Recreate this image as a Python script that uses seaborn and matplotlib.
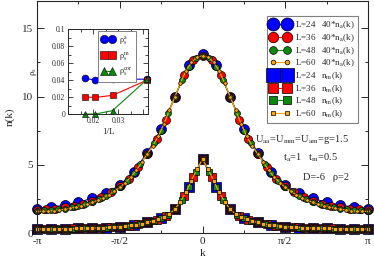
import numpy as np
import seaborn as sns
import matplotlib.pyplot as plt
from matplotlib.ticker import MultipleLocator

# n(k) values for k = 0 .. pi (n(k) = n(-k), mirrored below)
na40_L24 = [13.1, 12.3, 10.0, 7.6, 5.9, 4.5, 3.5, 2.95, 2.55, 2.25, 2.05, 1.9, 1.8]
na40_L36 = [13.0, 12.7, 11.6, 10.0, 8.3, 6.9, 5.8, 4.85, 4.0, 3.45, 3.0, 2.65, 2.35,
            2.15, 2.0, 1.88, 1.8, 1.74, 1.72]
na40_L48 = [13.0, 12.8, 12.2, 11.2, 10.0, 8.8, 7.5, 6.6, 5.8, 5.05, 4.4, 3.85, 3.4,
            3.05, 2.75, 2.5, 2.3, 2.15, 2.02, 1.9, 1.8, 1.74, 1.69, 1.66, 1.65]
na40_L60 = [13.0, 12.9, 12.5, 11.9, 11.0, 10.0, 9.0, 8.0, 7.1, 6.4, 5.8, 5.2, 4.6,
            4.1, 3.7, 3.35, 3.05, 2.82, 2.6, 2.4, 2.25, 2.12, 2.02, 1.92, 1.82, 1.75,
            1.7, 1.65, 1.62, 1.6, 1.59]

nm_L24 = [5.4, 3.4, 1.75, 1.1, 0.78, 0.59, 0.47, 0.41, 0.37, 0.34, 0.32, 0.31, 0.3]
nm_L36 = [5.4, 4.1, 2.75, 1.75, 1.25, 0.97, 0.78, 0.65, 0.54, 0.47, 0.43, 0.4, 0.37,
          0.35, 0.34, 0.32, 0.31, 0.31, 0.3]
nm_L48 = [5.4, 4.5, 3.4, 2.45, 1.75, 1.33, 1.1, 0.92, 0.78, 0.68, 0.59, 0.52, 0.47,
          0.44, 0.41, 0.39, 0.37, 0.355, 0.34, 0.33, 0.32, 0.31, 0.31, 0.3, 0.3]
nm_L60 = [5.4, 4.7, 3.85, 3.0, 2.3, 1.75, 1.4, 1.18, 1.02, 0.88, 0.78, 0.7, 0.62,
          0.56, 0.51, 0.47, 0.44, 0.42, 0.4, 0.38, 0.37, 0.36, 0.35, 0.34, 0.33,
          0.32, 0.32, 0.31, 0.31, 0.3, 0.3]

sizes = [24, 36, 48, 60]

# inset: superfluid stiffness vs 1/L
inv_L = [1 / 60, 1 / 48, 1 / 36, 1 / 24]
rho_a = [0.042, 0.040, 0.041, 0.041]
rho_m = [0.020, 0.0195, 0.022, 0.040]
rho_cor = [0.0, 0.0, 0.004, 0.041]

colors = ["#0000ff", "#ff0000", "#0a8a0a", "#ffa500"]
msizes = [7.2, 5.8, 4.3, 2.6]


def full(half):
    return half[::-1] + half[1:]


def kgrid(L):
    n = np.arange(-L // 2, L // 2 + 1)
    return 2 * np.pi * n / L


sns.set_style("ticks")
plt.rcParams["font.family"] = ["Liberation Serif", "DejaVu Serif"]
plt.rcParams["mathtext.fontset"] = "stix"

fig = plt.figure(figsize=(3.74, 2.64), dpi=100)
ax = fig.add_axes([0.099, 0.117, 0.885, 0.879])

for L, c, ms, vals in zip(sizes, colors, msizes, [na40_L24, na40_L36, na40_L48, na40_L60]):
    sns.lineplot(x=kgrid(L), y=full(vals), ax=ax, color=c, lw=0.8, marker="o",
                 markersize=ms, markeredgecolor="black", markeredgewidth=0.5,
                 clip_on=False, label=f"L={L}   40*n$_{{\\rm a}}$(k)")
for L, c, ms, vals in zip(sizes, colors, msizes, [nm_L24, nm_L36, nm_L48, nm_L60]):
    sns.lineplot(x=kgrid(L), y=full(vals), ax=ax, color=c, lw=0.8, marker="s",
                 markersize=ms, markeredgecolor="black", markeredgewidth=0.5,
                 clip_on=False, label=f"L={L}   n$_{{\\rm m}}$(k)")

ax.set_xlim(-np.pi, np.pi)
ax.set_ylim(0, 17)
ax.set_xticks([-np.pi, -np.pi / 2, 0, np.pi / 2, np.pi])
ax.set_xticklabels(["-π", "-π/2", "0", "π/2", "π"])
ax.xaxis.set_minor_locator(MultipleLocator(np.pi / 4))
ax.yaxis.set_major_locator(MultipleLocator(5))
ax.yaxis.set_minor_locator(MultipleLocator(2.5))
ax.tick_params(which="both", direction="in", top=True, right=True, labelsize=8, width=0.7)
ax.tick_params(which="major", length=5, pad=3)
ax.tick_params(which="minor", length=2.5)
for s in ax.spines.values():
    s.set_linewidth(0.8)
ax.set_xlabel("k", fontsize=8, labelpad=2)
ax.set_ylabel("n(k)", fontsize=8, labelpad=5)

leg = ax.legend(loc="upper right", bbox_to_anchor=(0.968, 0.955),
                bbox_transform=fig.transFigure, numpoints=2, handlelength=2.2,
                markerscale=1.3, fontsize=6.5, fancybox=False, edgecolor="0.5",
                borderpad=0.35, labelspacing=0.12, handletextpad=0.5, framealpha=1)
leg.get_frame().set_linewidth(0.8)

fig.text(0.682, 0.470, r"U$_{\rm aa}$=U$_{\rm mm}$=U$_{\rm am}$=g=1.5", fontsize=7.5, va="center")
fig.text(0.757, 0.402, r"t$_{\rm a}$=1   t$_{\rm m}$=0.5", fontsize=7.5, va="center")
fig.text(0.810, 0.326, "D=-6   ρ=2", fontsize=7.5, va="center")

# inset
ins = fig.add_axes([0.182, 0.568, 0.214, 0.322])
for vals, c, m, lab in zip([rho_a, rho_m, rho_cor], colors[:3], ["o", "s", "^"],
                           [r"ρ$_{\rm s}^{\rm a}$", r"ρ$_{\rm s}^{\rm m}$", r"ρ$_{\rm s}^{\rm cor}$"]):
    sns.lineplot(x=inv_L, y=vals, ax=ins, color=c, lw=0.8, marker=m, markersize=5,
                 markeredgecolor="black", markeredgewidth=0.4, clip_on=False, label=lab)
ins.set_xlim(0.01, 0.042)
ins.set_ylim(0, 0.1)
ins.set_xticks([0.02, 0.03, 0.04])
ins.set_xticklabels(["0.02", "0.03", ""])
ins.xaxis.set_minor_locator(MultipleLocator(0.005))
ins.set_yticks([0, 0.02, 0.04, 0.06, 0.08, 0.1])
ins.set_yticklabels(["0", "0.02", "0.04", "0.06", "0.08", "0.1"])
ins.yaxis.set_minor_locator(MultipleLocator(0.01))
ins.tick_params(which="both", direction="in", top=True, right=True, labelsize=5.5,
                width=0.6, pad=2)
ins.tick_params(which="major", length=3.5)
ins.tick_params(which="minor", length=2)
for s in ins.spines.values():
    s.set_linewidth(0.7)
ins.set_xlabel("1/L", fontsize=6.5, labelpad=2)
ins.set_ylabel(r"ρ$_{\rm s}$", fontsize=6.5)
ins.yaxis.set_label_coords(-0.36, 0.5)
il = ins.legend(loc="upper right", bbox_to_anchor=(0.9, 1.03), numpoints=2,
                handlelength=1.6, markerscale=1.2, fontsize=6, fancybox=False,
                edgecolor="0.5", borderpad=0.4, labelspacing=0.35, handletextpad=0.5,
                framealpha=1)
il.get_frame().set_linewidth(0.7)

fig.savefig("out.png", dpi=100)
